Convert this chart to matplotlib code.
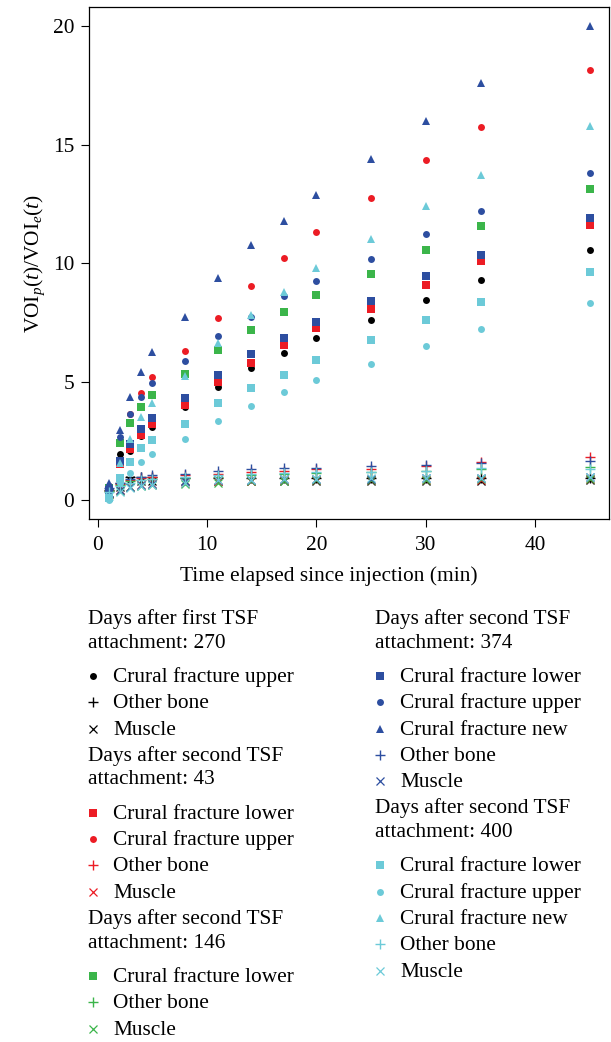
import matplotlib
matplotlib.use("Agg")
import matplotlib.pyplot as plt

plt.rcParams["font.family"] = ["Liberation Serif", "DejaVu Serif"]
plt.rcParams["mathtext.fontset"] = "custom"
plt.rcParams["mathtext.rm"] = "Liberation Serif"
plt.rcParams["mathtext.it"] = "Liberation Serif:italic"

# Sampling times (min after injection)
minutes = [1, 2, 3, 4, 5, 8, 11, 14, 17, 20, 25, 30, 35, 45]

# 270 days after first TSF attachment
d270_upper = [0.50, 1.95, 2.10, 2.70, 3.10, 3.95, 4.79, 5.57, 6.20, 6.83, 7.59, 8.46, 9.27, 10.54]
d270_bone = [0.45, 0.75, 1.00, 1.00, 1.00, 0.95, 0.95, 0.95, 0.95, 0.95, 0.95, 0.95, 0.95, 0.95]
d270_muscle = [0.30, 0.55, 0.86, 0.80, 0.80, 0.80, 0.80, 0.80, 0.80, 0.80, 0.80, 0.80, 0.80, 0.86]

# 43 days after second TSF attachment
d43_lower = [0.45, 1.55, 2.17, 2.75, 3.20, 4.02, 4.99, 5.80, 6.55, 7.28, 8.05, 9.06, 10.08, 11.62]
d43_upper = [0.60, 2.50, 3.65, 4.54, 5.21, 6.29, 7.67, 9.05, 10.23, 11.30, 12.73, 14.35, 15.72, 18.15]
d43_bone = [0.40, 0.70, 0.85, 0.95, 1.00, 1.05, 1.10, 1.20, 1.25, 1.30, 1.33, 1.45, 1.61, 1.84]
d43_muscle = [0.25, 0.45, 0.55, 0.65, 0.70, 0.75, 0.80, 0.80, 0.85, 0.85, 0.85, 0.85, 0.85, 0.90]

# 146 days after second TSF attachment
d146_lower = [0.50, 2.43, 3.25, 3.92, 4.44, 5.31, 6.34, 7.18, 7.93, 8.64, 9.53, 10.54, 11.55, 13.11]
d146_bone = [0.40, 0.65, 0.80, 0.85, 0.90, 0.95, 1.00, 1.05, 1.10, 1.15, 1.20, 1.25, 1.30, 1.39]
d146_muscle = [0.25, 0.40, 0.55, 0.60, 0.65, 0.70, 0.75, 0.80, 0.80, 0.85, 0.85, 0.85, 0.90, 0.90]

# 374 days after second TSF attachment
d374_lower = [0.45, 1.65, 2.37, 3.00, 3.46, 4.30, 5.27, 6.15, 6.85, 7.50, 8.39, 9.44, 10.35, 11.89]
d374_upper = [0.60, 2.66, 3.62, 4.37, 4.93, 5.89, 6.91, 7.72, 8.61, 9.26, 10.19, 11.24, 12.20, 13.81]
d374_new = [0.75, 2.96, 4.34, 5.40, 6.27, 7.73, 9.39, 10.75, 11.78, 12.87, 14.39, 16.00, 17.58, 20.00]
d374_bone = [0.50, 0.75, 0.90, 1.00, 1.05, 1.10, 1.25, 1.30, 1.35, 1.38, 1.45, 1.49, 1.59, 1.67]
d374_muscle = [0.30, 0.45, 0.55, 0.65, 0.70, 0.80, 0.85, 0.85, 0.90, 0.90, 0.90, 0.95, 0.95, 1.00]

# 400 days after second TSF attachment
d400_lower = [0.10, 0.93, 1.60, 2.20, 2.53, 3.20, 4.09, 4.72, 5.30, 5.90, 6.75, 7.59, 8.35, 9.61]
d400_upper = [0.00, 0.75, 1.16, 1.63, 1.95, 2.58, 3.34, 3.99, 4.55, 5.06, 5.75, 6.50, 7.22, 8.32]
d400_new = [0.15, 1.56, 2.57, 3.50, 4.12, 5.24, 6.62, 7.80, 8.80, 9.81, 11.00, 12.41, 13.70, 15.77]
d400_bone = [0.35, 0.60, 0.75, 0.85, 0.90, 1.00, 1.05, 1.10, 1.15, 1.20, 1.20, 1.24, 1.35, 1.31]
d400_muscle = [0.20, 0.35, 0.50, 0.60, 0.65, 0.75, 0.85, 0.85, 0.90, 0.90, 0.95, 0.95, 0.95, 1.00]

BLACK = "#000000"
RED = "#ec1c24"
GREEN = "#3bb54a"
BLUE = "#2d4ea0"
CYAN = "#6ccad8"

# marker styles (R pch 15/16/17/3/4 look-alikes)
styles = {
    "Crural fracture lower": dict(marker="s", ms=5.4, mew=0),
    "Crural fracture upper": dict(marker="o", ms=5.0, mew=0),
    "Crural fracture new": dict(marker="^", ms=6.2, mew=0),
    "Other bone": dict(marker="+", ms=7.0, mew=1.0),
    "Muscle": dict(marker="x", ms=5.6, mew=0.9),
}

groups = [
    ("Days after first TSF\nattachment: 270", BLACK, [
        ("Crural fracture upper", d270_upper),
        ("Other bone", d270_bone),
        ("Muscle", d270_muscle)]),
    ("Days after second TSF\nattachment: 43", RED, [
        ("Crural fracture lower", d43_lower),
        ("Crural fracture upper", d43_upper),
        ("Other bone", d43_bone),
        ("Muscle", d43_muscle)]),
    ("Days after second TSF\nattachment: 146", GREEN, [
        ("Crural fracture lower", d146_lower),
        ("Other bone", d146_bone),
        ("Muscle", d146_muscle)]),
    ("Days after second TSF\nattachment: 374", BLUE, [
        ("Crural fracture lower", d374_lower),
        ("Crural fracture upper", d374_upper),
        ("Crural fracture new", d374_new),
        ("Other bone", d374_bone),
        ("Muscle", d374_muscle)]),
    ("Days after second TSF\nattachment: 400", CYAN, [
        ("Crural fracture lower", d400_lower),
        ("Crural fracture upper", d400_upper),
        ("Crural fracture new", d400_new),
        ("Other bone", d400_bone),
        ("Muscle", d400_muscle)]),
]

FS = 15.4
W, H = 611, 1042
fig = plt.figure(figsize=(W / 100, H / 100), dpi=100)
ax = fig.add_axes([89.3 / W, 1 - 519.3 / H, 520 / W, 512.3 / H])

for title, color, series in groups:
    for region, values in series:
        ax.plot(minutes, values, linestyle="none", color=color, **styles[region])

ax.set_xlim(-0.76, 46.76)
ax.set_ylim(-0.8, 20.8)
ax.set_xticks([0, 10, 20, 30, 40])
ax.set_yticks([0, 5, 10, 15, 20])
for s in ax.spines.values():
    s.set_linewidth(0.9)
ax.tick_params(length=5.8, width=0.8, labelsize=FS, pad=5)
ax.tick_params(axis="x", pad=6)
ax.set_xlabel("Time elapsed since injection (min)", fontsize=FS)
ax.xaxis.set_label_coords((329 - 89.3) / 520, -(576 - 519.3) / 512.3)
ax.xaxis.label.set_va("center")
ax.set_ylabel(r"$\mathrm{VOI}_p(t)/\mathrm{VOI}_e(t)$", fontsize=FS)
ax.yaxis.set_label_coords(-(89.3 - 35) / 520, 0.5)
ax.yaxis.label.set_va("center")

# legend drawn in pixel coordinates on an overlay
lax = fig.add_axes([0, 0, 1, 1], facecolor="none")
lax.set_xlim(0, W)
lax.set_ylim(H, 0)
lax.axis("off")

TITLE_GAP, TITLE_TO_ITEM, ITEM_GAP = 23.5, 34.5, 26.3


def draw_column(x, y, col_groups):
    for title, color, series in col_groups:
        for line in title.split("\n"):
            lax.text(x, y, line, fontsize=FS, va="baseline", ha="left")
            y += TITLE_GAP
        y += TITLE_TO_ITEM - TITLE_GAP
        for region, _ in series:
            lax.plot(x + 4.5, y - 6, linestyle="none", color=color,
                     clip_on=False, **styles[region])
            lax.text(x + 25, y, region, fontsize=FS, va="baseline", ha="left")
            y += ITEM_GAP


draw_column(88, 624, groups[:3])
draw_column(375, 624, groups[3:])

fig.savefig("out.png", dpi=100)
